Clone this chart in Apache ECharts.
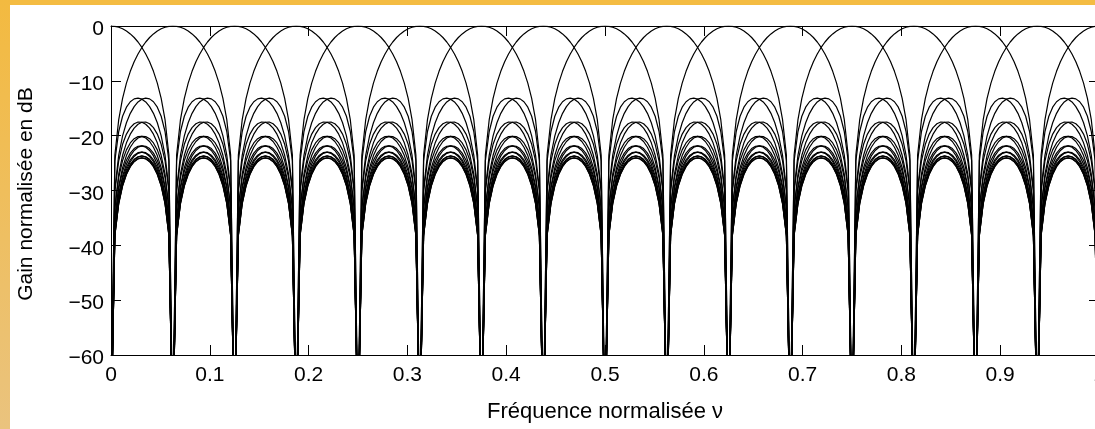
<!DOCTYPE html>
<html>
<head>
<meta charset="utf-8">
<script src="https://cdn.jsdelivr.net/npm/echarts@6/dist/echarts.min.js"></script>
<style>
html,body{margin:0;padding:0;background:#fff;}
#c{width:1095px;height:429px;}
</style>
</head>
<body>
<div id="c"></div>
<script>
// Centres of the 16 filters of the bank (normalised frequency)
const filterCenters = [0, 0.0625, 0.125, 0.1875, 0.25, 0.3125, 0.375, 0.4375,
                       0.5, 0.5625, 0.625, 0.6875, 0.75, 0.8125, 0.875, 0.9375];

// Spacing (in normalised frequency) of the gain readings below
const gainStep = 1 / 256;

// Gain (dB) of one filter read at offsets 0, 1, 2 ... 128 steps from its centre
// (same response for every filter, symmetric and periodic); nulls drawn to -75
const gainDb = [
  0, -0.06, -0.22, -0.51, -0.91, -1.44, -2.10, -2.92, -3.91, -5.10, -6.53, -8.27, -10.42, -13.21, -17.08, -23.53,
  -75, -24.60, -19.24, -16.46, -14.80, -13.81, -13.29, -13.15, -13.34, -13.85, -14.70, -15.93, -17.64, -20.03, -23.55, -29.67,
  -75, -30.19, -24.58, -21.58, -19.71, -18.53, -17.83, -17.52, -17.55, -17.92, -18.63, -19.73, -21.31, -23.58, -26.99, -33.01,
  -75, -33.33, -27.63, -24.54, -22.59, -21.33, -20.55, -20.17, -20.13, -20.43, -21.07, -22.11, -23.63, -25.85, -29.20, -35.16,
  -75, -35.37, -29.62, -26.49, -24.49, -23.18, -22.36, -21.93, -21.85, -22.10, -22.71, -23.70, -25.19, -27.36, -30.68, -36.60,
  -75, -36.75, -30.96, -27.79, -25.76, -24.42, -23.56, -23.10, -22.99, -23.22, -23.79, -24.76, -26.22, -28.36, -31.65, -37.55,
  -75, -37.63, -31.82, -28.63, -26.57, -25.20, -24.32, -23.84, -23.70, -23.90, -24.45, -25.39, -26.83, -28.95, -32.21, -38.09,
  -75, -38.13, -32.30, -29.08, -27.00, -25.61, -24.71, -24.20, -24.04, -24.22, -24.75, -25.67, -27.08, -29.18, -32.42, -38.28,
  -75
];

const xTicks = [0, 0.1, 0.2, 0.3, 0.4, 0.5, 0.6, 0.7, 0.8, 0.9, 1];
const xTickLabels = ['0', '0.1', '0.2', '0.3', '0.4', '0.5', '0.6', '0.7', '0.8', '0.9', '1'];
const yTicks = [0, -10, -20, -30, -40, -50, -60];
const yTickLabels = ['0', '\u221210', '\u221220', '\u221230', '\u221240', '\u221250', '\u221260'];

const xTitle = 'Fréquence normalisée \u03bd';
const yTitle = 'Gain normalisée en dB';

function lookup(ticks, labels, v) {
  for (let i = 0; i < ticks.length; i++) {
    if (Math.abs(ticks[i] - v) < 1e-9) return labels[i];
  }
  return '';
}

const nSteps = Math.round(1 / gainStep);
const half = nSteps / 2;
const series = filterCenters.map(function (c) {
  const shift = Math.round(c / gainStep);
  const data = [];
  for (let i = 0; i <= nSteps; i++) {
    let d = (((i - shift) % nSteps) + nSteps) % nSteps;
    if (d > half) d = nSteps - d;
    data.push([i * gainStep, gainDb[d]]);
  }
  return {
    type: 'line', data: data, symbol: 'none', showSymbol: false,
    lineStyle: { color: '#000', width: 1.2 }, silent: true, clip: true,
    animation: false, z: 2
  };
});

const FONT = 'Liberation Sans, Arial, Helvetica, sans-serif';
const axisLineStyle = { show: true, onZero: false, lineStyle: { color: '#000', width: 1 } };
const tickStyle = { show: true, inside: true, length: 10, lineStyle: { color: '#000', width: 1 } };

const chart = echarts.init(document.getElementById('c'));
chart.setOption({
  animation: false,
  backgroundColor: '#fff',
  grid: { left: 111, top: 26, width: 988, bottom: 74, containLabel: false, outerBoundsMode: 'none' },
  xAxis: [{
    type: 'value', min: 0, max: 1, interval: 0.1, position: 'bottom',
    axisLine: axisLineStyle, axisTick: tickStyle, splitLine: { show: false },
    axisLabel: { margin: 10, fontSize: 21, fontFamily: FONT, color: '#000',
      formatter: function (v) { return lookup(xTicks, xTickLabels, v); } },
    name: xTitle, nameLocation: 'middle', nameGap: 46,
    nameTextStyle: { fontSize: 22, fontFamily: FONT, color: '#000' }
  }, {
    type: 'value', min: 0, max: 1, interval: 0.1, position: 'top',
    axisLine: axisLineStyle, axisTick: tickStyle, splitLine: { show: false },
    axisLabel: { show: false }
  }],
  yAxis: [{
    type: 'value', min: -60, max: 0, interval: 10, position: 'left',
    axisLine: axisLineStyle, axisTick: tickStyle, splitLine: { show: false },
    axisLabel: { margin: 7, color: '#000',
      formatter: function (v) { return '{t|' + lookup(yTicks, yTickLabels, v) + '}'; },
      rich: { t: { fontSize: 21, fontFamily: FONT, color: '#000', padding: [7, 0, 0, 0] } } },
    name: yTitle, nameLocation: 'middle', nameGap: 74,
    nameTextStyle: { fontSize: 21, fontFamily: FONT, color: '#000', padding: [0, 7, 0, 0] }
  }, {
    type: 'value', min: -60, max: 0, interval: 10, position: 'right',
    axisLine: axisLineStyle, axisTick: tickStyle, splitLine: { show: false },
    axisLabel: { show: false }
  }],
  graphic: [
    { type: 'rect', shape: { x: 0, y: 0, width: 1095, height: 5 }, style: { fill: '#F4BC43' }, silent: true, z: 100 },
    { type: 'rect', shape: { x: 0, y: 0, width: 10, height: 429 }, silent: true, z: 100,
      style: { fill: new echarts.graphic.LinearGradient(0, 0, 0, 1, [
        { offset: 0, color: '#F3BA40' }, { offset: 1, color: '#EAC37E' }]) } }
  ],
  series: series
});
</script>
</body>
</html>
